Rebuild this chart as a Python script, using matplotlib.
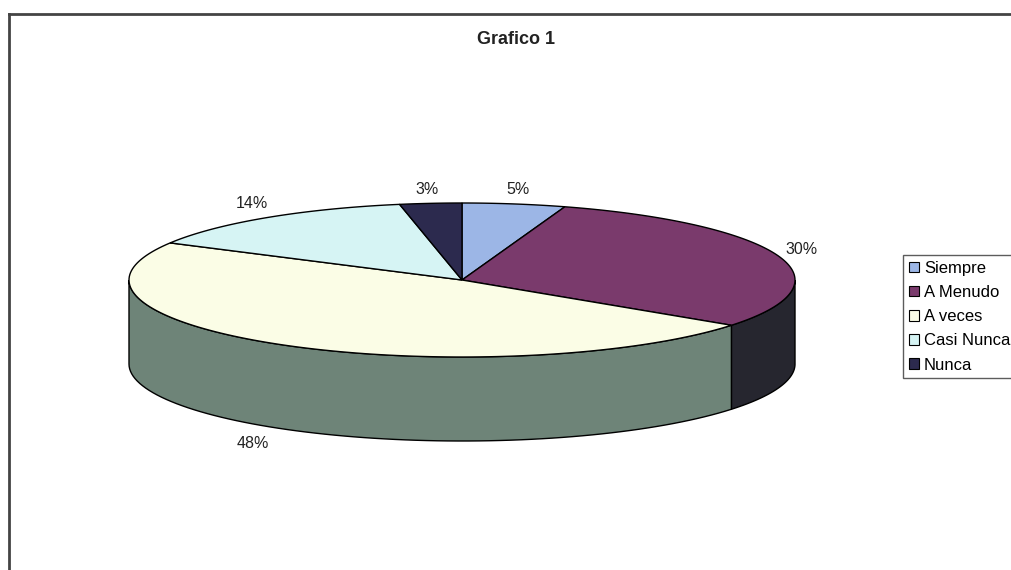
import numpy as np
import matplotlib
matplotlib.use("Agg")
import matplotlib.pyplot as plt
from matplotlib.patches import Polygon, Patch

plt.rcParams["font.family"] = ["Liberation Sans", "DejaVu Sans"]

# Data
categories = ["Siempre", "A Menudo", "A veces", "Casi Nunca", "Nunca"]
values = [5, 30, 48, 14, 3]
top_colors = ["#9cb6e6", "#7a3a6c", "#fbfde6", "#d6f4f4", "#2c2a4e"]
side_colors = ["#6f86a8", "#26262f", "#6e8478", "#9ab0b0", "#1e1c36"]

# 3D pie geometry (pixels)
cx, cy = 462, 280
a, b = 333, 77
depth = 84
label_pos = [(518, 190), (802, 250), (253, 443), (252, 204), (427, 190)]

fig = plt.figure(figsize=(10.11, 5.70), dpi=100)
ax = fig.add_axes([0, 0, 1, 1])
ax.set_xlim(0, 1011)
ax.set_ylim(570, 0)
ax.axis("off")


def pt(t, dy=0):
    # t = angle in degrees clockwise from top, parametric on the ellipse
    r = np.radians(t)
    return cx + a * np.sin(r), cy - b * np.cos(r) + dy


fracs = np.array(values) / sum(values)
bounds = np.concatenate([[0], np.cumsum(fracs) * 360])

# side walls (front half only: 90..270)
for i in range(len(values)):
    t0, t1 = max(bounds[i], 90), min(bounds[i + 1], 270)
    if t1 <= t0:
        continue
    ts = np.linspace(t0, t1, 80)
    top = [pt(t) for t in ts]
    bot = [pt(t, depth) for t in ts[::-1]]
    ax.add_patch(Polygon(top + bot, closed=True, facecolor=side_colors[i],
                         edgecolor="black", linewidth=1.0))

# top faces
for i in range(len(values)):
    ts = np.linspace(bounds[i], bounds[i + 1], 120)
    poly = [(cx, cy)] + [pt(t) for t in ts]
    ax.add_patch(Polygon(poly, closed=True, facecolor=top_colors[i],
                         edgecolor="black", linewidth=1.0))

# percent labels
for v, (lx, ly) in zip(values, label_pos):
    ax.text(lx, ly, f"{v}%", ha="center", va="center", fontsize=11.5, color="#222222")

ax.text(516, 40, "Grafico 1", ha="center", va="center", fontsize=13,
        fontweight="bold", color="#222222")

# outer chart border
ax.plot([9, 1011], [14, 14], color="#444444", linewidth=2)
ax.plot([9, 9], [14, 570], color="#444444", linewidth=2)

handles = [Patch(facecolor=c, edgecolor="black", linewidth=0.8) for c in top_colors]
leg = ax.legend(handles, categories, loc="upper left",
                bbox_to_anchor=(903 / 1011, 1 - 255 / 570), fontsize=12,
                frameon=True, fancybox=False, shadow=False, borderpad=0.35,
                handlelength=0.6, handleheight=0.6, handletextpad=0.3,
                labelspacing=0.55, borderaxespad=0)
leg.get_frame().set_edgecolor("#333333")
leg.get_frame().set_linewidth(1.0)

fig.savefig("out.png", dpi=100)
